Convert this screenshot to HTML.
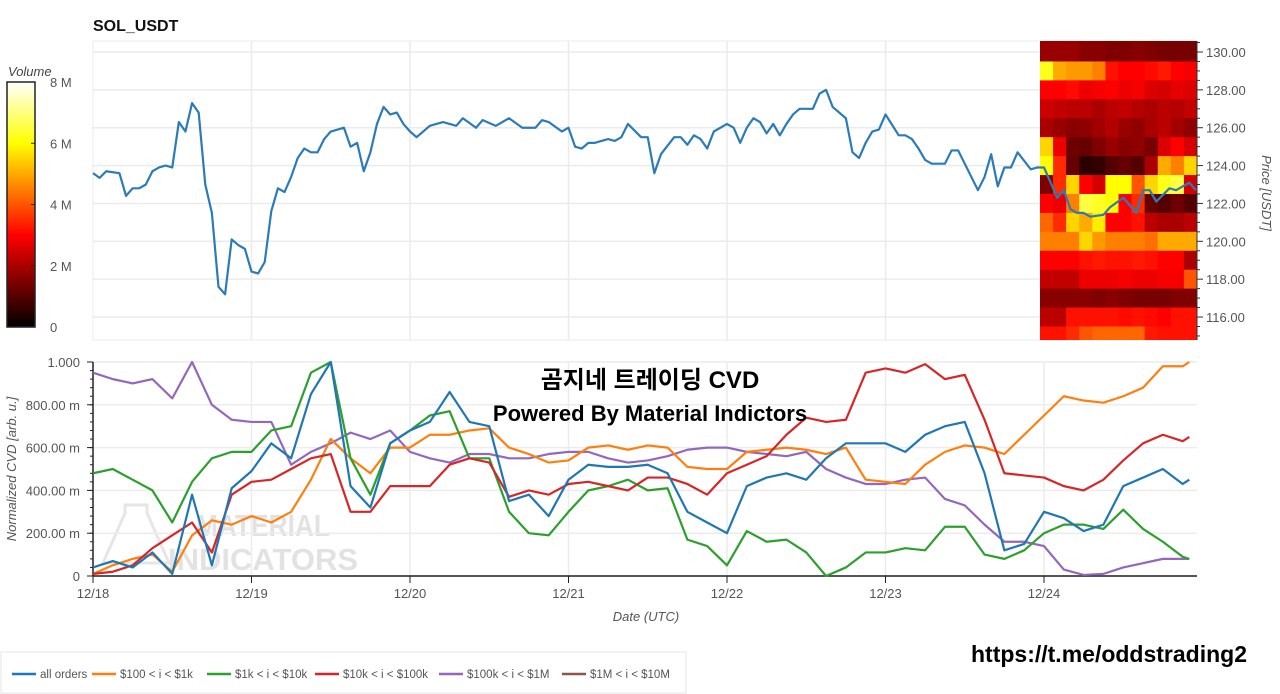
<!DOCTYPE html>
<html><head><meta charset="utf-8"><style>
html,body{margin:0;padding:0;background:#fff;}
svg{display:block;font-family:"Liberation Sans","Noto Sans CJK KR",sans-serif;}
</style></head><body>
<svg id="chart" width="1280" height="694" viewBox="0 0 1280 694" xmlns="http://www.w3.org/2000/svg">
<defs>
<linearGradient id="hotg" x1="0" y1="0" x2="0" y2="1">
<stop offset="0" stop-color="#ffffff"/><stop offset="0.25" stop-color="#ffff00"/><stop offset="0.625" stop-color="#ff0000"/><stop offset="1" stop-color="#000000"/>
</linearGradient>
<clipPath id="topclip"><rect x="93" y="41" width="1104" height="299"/></clipPath>
<clipPath id="botclip"><rect x="93" y="358" width="1104" height="222"/></clipPath>
</defs>
<text x="93" y="31" font-size="16" font-weight="bold" fill="#111">SOL_USDT</text>
<g id="top"></g>
<g opacity="0.18">
<path d="M125 505 h22 v8 l22 50 h-66 l22-50z" fill="none" stroke="#777" stroke-width="3"/>
<text x="196" y="536" font-size="31" font-weight="bold" fill="#666" textLength="134" lengthAdjust="spacingAndGlyphs">MATERIAL</text>
<text x="168" y="570" font-size="31" font-weight="bold" fill="#666" textLength="190" lengthAdjust="spacingAndGlyphs">INDICATORS</text>
</g>
<g id="bot"></g>
<text x="8" y="76" font-size="13" font-style="italic" fill="#444">Volume</text>
<rect x="7" y="82" width="28" height="245" fill="url(#hotg)" stroke="#222" stroke-width="1.5"/>
<g id="cbticks"></g>
<text transform="translate(1262,193) rotate(90)" text-anchor="middle" font-size="13" font-style="italic" fill="#555">Price [USDT]</text>
<text transform="translate(16,469) rotate(-90)" text-anchor="middle" font-size="13" font-style="italic" fill="#555">Normalized CVD [arb. u.]</text>
<text x="646" y="621" text-anchor="middle" font-size="13" font-style="italic" fill="#555">Date (UTC)</text>
<text x="650" y="388" text-anchor="middle" font-size="24" font-weight="bold" fill="#000">곰지네 트레이딩 CVD</text>
<text x="650" y="421" text-anchor="middle" font-size="22" font-weight="bold" fill="#000">Powered By Material Indictors</text>
<text x="1247" y="662" text-anchor="end" font-size="23" font-weight="bold" fill="#000">https://t.me/oddstrading2</text>
<g>
<rect x="1" y="652" width="685" height="41" fill="#fff" stroke="#e6e6e6"/>
<g id="legend"></g>
</g>
</svg>
<script>
const priceHours=[0,1,2,4,5,6,7,8,9,10,11,12,13,14,15,16,17,18,19,20,21,22,23,24,25,26,27,28,29,30,31,32,33,34,35,36,38,39,40,41,42,43,44,45,46,47,48,49,51,53,55,56,58,59,61,63,65,67,68,69,71,72,73,74,75,76,78,79,80,81,83,84,85,86,88,89,90,91,92,93,94,96,97,98,99,100,101,102,103,104,105,106,107,109,110,111,112,114,115,116,117,118,119,120,122,123,124,125,126,127,129,130,131,132,134,135,136,137,138,139,140,142,143,144,145,146,147,148,149,150,151,153,154,156,158,159,160,161,163,164,166,167];
const priceVals=[123.6,123.35,123.7,123.6,122.4,122.8,122.8,123.0,123.7,123.9,124.0,123.9,126.3,125.8,127.3,126.8,123.0,121.5,117.6,117.2,120.1,119.8,119.6,118.4,118.3,118.9,121.6,122.8,122.6,123.4,124.4,124.9,124.7,124.7,125.4,125.8,126.0,125.0,125.2,123.7,124.7,126.2,127.1,126.7,126.8,126.2,125.8,125.5,126.1,126.3,126.1,126.5,126.0,126.4,126.1,126.5,126.0,126.0,126.4,126.3,125.8,126.0,125.0,124.9,125.2,125.2,125.4,125.3,125.5,126.2,125.5,125.5,123.6,124.6,125.5,125.5,125.1,125.6,125.4,124.9,125.8,126.2,126.0,125.2,126.0,126.5,126.3,125.7,126.2,125.6,126.2,126.7,127.0,127.0,127.8,128.0,127.1,126.5,124.7,124.4,125.2,125.8,125.9,126.7,125.6,125.6,125.4,124.9,124.3,124.1,124.1,124.8,124.8,124.1,122.7,123.4,124.6,122.9,123.9,123.9,124.7,123.8,123.9,123.9,123.1,122.3,122.7,121.7,121.5,121.5,121.3,121.4,121.8,122.3,121.5,122.7,122.7,122.1,122.8,122.7,123.1,122.7];
const priceTicks=[130,128,126,124,122,120,118,116];
const dayLabels=["12/18","12/19","12/20","12/21","12/22","12/23","12/24"];
const cvdTicks=[0,0.2,0.4,0.6,0.8,1.0];
const cvdTickLabels=["0","200.00 m","400.00 m","600.00 m","800.00 m","1.000"];
const volTicks=[0,2,4,6,8];
const volLevels=[130,129,128,127,126,125,124,123,122,121,120,119,118,117,116,115];
const volGrid=[
[1.8,1.8,1.8,1.6,1.6,1.5,1.5,1.6,1.5,1.4,1.4,1.4],
[6.2,5.0,4.8,4.8,4.5,3.2,3.0,3.0,3.1,3.3,3.0,2.9],
[3.0,3.0,3.1,2.8,2.9,3.0,2.8,2.9,2.6,2.5,2.7,2.6],
[2.4,2.3,2.2,2.2,2.0,2.2,2.3,2.1,2.0,2.2,2.1,2.3],
[2.0,1.8,1.6,1.7,1.9,2.1,1.8,1.7,2.0,2.2,1.9,1.7],
[5.5,2.8,1.3,1.2,1.5,1.8,1.6,1.7,1.4,2.6,3.0,2.5],
[6.0,3.5,1.2,0.5,0.6,1.0,1.2,1.0,2.0,5.0,4.5,5.5],
[1.5,3.5,5.5,3.0,2.5,6.0,6.0,4.0,5.5,6.2,6.5,2.5],
[3.0,2.8,4.5,6.5,6.3,6.0,3.0,3.5,1.2,1.0,1.3,1.0],
[4.2,3.5,5.5,5.0,5.8,3.0,3.0,3.2,2.2,2.0,2.0,2.2],
[4.5,4.5,4.5,5.5,4.8,4.5,4.5,4.5,4.3,5.0,5.0,5.0],
[3.0,3.0,3.0,3.2,3.3,3.2,3.2,3.3,3.2,3.0,3.0,2.0],
[2.3,2.3,2.3,2.8,2.8,2.8,2.9,2.8,2.8,2.9,2.9,4.0],
[1.6,1.6,1.6,1.6,1.5,1.6,1.5,1.4,1.4,1.4,1.5,1.5],
[2.2,2.2,3.2,3.2,3.2,3.2,3.1,3.2,3.1,3.0,3.2,3.2],
[3.2,3.2,3.5,4.0,4.2,4.2,4.2,4.2,3.3,3.2,3.2,3.2]];
const cvdHours=[0,3,6,9,12,15,18,21,24,27,30,33,36,39,42,45,48,51,54,57,60,63,66,69,72,75,78,81,84,87,90,93,96,99,102,105,108,111,114,117,120,123,126,129,132,135,138,141,144,147,150,153,156,159,162,165,166];
const allOrders=[.04,.07,.04,.11,.01,.38,.05,.41,.49,.62,.55,.85,1.0,.42,.32,.62,.68,.72,.86,.72,.70,.35,.38,.28,.45,.52,.51,.51,.52,.48,.30,.25,.20,.42,.46,.48,.45,.55,.62,.62,.62,.58,.66,.70,.72,.48,.12,.15,.30,.27,.21,.24,.42,.46,.50,.43,.45];
const s100to1k=[.01,.05,.08,.10,.02,.19,.26,.24,.28,.25,.30,.45,.64,.55,.48,.60,.60,.66,.66,.68,.69,.60,.57,.53,.54,.60,.61,.59,.61,.60,.51,.50,.50,.58,.59,.60,.59,.57,.60,.45,.44,.43,.52,.58,.61,.60,.57,.66,.75,.84,.82,.81,.84,.88,.98,.98,1.0];
const s1kto10k=[.48,.50,.45,.40,.25,.44,.55,.58,.58,.68,.70,.95,1.0,.55,.38,.62,.68,.75,.77,.55,.55,.30,.20,.19,.30,.40,.42,.45,.40,.41,.17,.14,.05,.21,.16,.17,.11,.0,.04,.11,.11,.13,.12,.23,.23,.10,.08,.12,.20,.24,.24,.22,.31,.22,.16,.09,.08];
const s10kto100k=[.01,.02,.05,.13,.19,.25,.11,.38,.44,.45,.50,.55,.57,.30,.30,.42,.42,.42,.52,.55,.53,.37,.40,.38,.43,.44,.42,.40,.46,.46,.43,.38,.48,.52,.56,.66,.74,.72,.73,.95,.97,.95,.99,.92,.94,.73,.48,.47,.46,.42,.40,.45,.54,.62,.66,.63,.65];
const s100kto1m=[.95,.92,.90,.92,.83,1.0,.80,.73,.72,.72,.52,.58,.62,.67,.64,.68,.58,.55,.53,.57,.57,.55,.55,.57,.58,.58,.55,.53,.54,.56,.59,.60,.60,.58,.57,.56,.58,.50,.46,.43,.43,.45,.46,.36,.33,.24,.16,.16,.14,.03,.005,.01,.04,.06,.08,.08,.08];
const seriesNames=["all orders","$100 < i < $1k","$1k < i < $10k","$10k < i < $100k","$100k < i < $1M","$1M < i < $10M"];
const seriesColors=["#1f77b4","#ff7f0e","#2ca02c","#d62728","#9467bd","#8c564b"];

const NS="http://www.w3.org/2000/svg";
function mk(tag,attrs,parent){const e=document.createElementNS(NS,tag);for(const k in attrs)e.setAttribute(k,attrs[k]);parent.appendChild(e);return e;}
const xS=h=>93+h*158.5/24;
const pY=p=>52+(130-p)*18.93;
const cY=v=>576-v*214;
const vY=v=>327-v/8*245;
const topG=document.getElementById('top'), botG=document.getElementById('bot');

let fr=mk('rect',{x:93,y:41,width:1104,height:299,fill:'#fff',stroke:'#ebebeb'},topG);


priceTicks.forEach(p=>{
  const l=mk('line',{x1:93,x2:1197,y1:pY(p),y2:pY(p),stroke:'#ebebeb','stroke-width':1.5},topG);
  
  
  const t=mk('text',{x:1206,y:pY(p)+5,'font-size':13,fill:'#555'},topG);
  t.textContent=p.toFixed(2);
  
  
});
dayLabels.forEach((d,i)=>{
  if(i===0)return;
  const l=mk('line',{x1:xS(i*24),x2:xS(i*24),y1:41,y2:340,stroke:'#ebebeb','stroke-width':1.5},topG);
  
  
});
const hm=mk('g',{'clip-path':'url(#topclip)'},topG);


function hot(v){const t=Math.max(0,Math.min(1,v/8));const r=Math.min(1,t/0.375),g=Math.max(0,Math.min(1,(t-0.375)/0.375)),b=Math.max(0,Math.min(1,(t-0.75)/0.25));return `rgb(${Math.round(r*255)},${Math.round(g*255)},${Math.round(b*255)})`;}
const hx0=1040,hx1=1197,nc=volGrid[0].length,cw=(hx1-hx0)/nc;
volLevels.forEach((p,ri)=>{
  volGrid[ri].forEach((v,ci)=>{
    let y0=pY(p+0.5),y1=pY(p-0.5);
    if(ri===0)y0=41;
    const c=mk('rect',{x:hx0+ci*cw,y:y0,width:cw+0.5,height:y1-y0+0.5,fill:hot(v)},hm);
    
    
  });
});
const pax=mk('line',{x1:1197,x2:1197,y1:41,y2:340,stroke:'#333'},topG);


for(let p=115;p<=130.5;p+=0.5){mk('line',{x1:1197,x2:p%2===0?1203:1200,y1:pY(p),y2:pY(p),stroke:'#333'},topG);}
const nP=Math.min(priceHours.length,priceVals.length);
const pts=[];for(let i=0;i<nP;i++)pts.push(xS(priceHours[i])+','+pY(priceVals[i]));
const pl=mk('polyline',{points:pts.join(' '),fill:'none',stroke:'#2b7bb9','stroke-width':2.2,'stroke-linejoin':'round'},topG);



const cb=document.getElementById('cbticks');
volTicks.forEach(v=>{
  mk('line',{x1:31,x2:35,y1:vY(v),y2:vY(v),stroke:'#222'},cb);
  const t=mk('text',{x:50,y:vY(v)+5,'font-size':13,fill:'#555'},cb);
  t.textContent=v===0?'0':v+' M';
  
  
});

cvdTicks.forEach((v,i)=>{
  const l=mk('line',{x1:93,x2:1197,y1:cY(v),y2:cY(v),stroke:'#ececec','stroke-width':1.5},botG);
  
  
  const t=mk('text',{x:80,y:cY(v)+5,'font-size':13,fill:'#555','text-anchor':'end'},botG);
  t.textContent=cvdTickLabels[i];
  
  
  mk('line',{x1:87,x2:93,y1:cY(v),y2:cY(v),stroke:'#222'},botG);
});
for(let k=0;k<=25;k++){const v=k*0.04;mk('line',{x1:90,x2:93,y1:cY(v),y2:cY(v),stroke:'#222'},botG);}
dayLabels.forEach((d,i)=>{
  const x=xS(i*24);
  if(i>0){const g=mk('line',{x1:x,x2:x,y1:362,y2:576,stroke:'#ececec','stroke-width':1.5},botG);
  
  }
  mk('line',{x1:x,x2:x,y1:576,y2:583,stroke:'#222'},botG);
  const t=mk('text',{x:x,y:598,'font-size':13,fill:'#555','text-anchor':'middle'},botG);
  t.textContent=d;
  
  
});
const ya=mk('line',{x1:93,x2:93,y1:362,y2:576,stroke:'#222','stroke-width':1.5},botG);


const xa=mk('line',{x1:93,x2:1197,y1:576,y2:576,stroke:'#222','stroke-width':1.5},botG);



const seriesData=[allOrders,s100to1k,s1kto10k,s10kto100k,s100kto1m];
const seriesKeys=['all-orders-line','cvd-100-1k-line','cvd-1k-10k-line','cvd-10k-100k-line','cvd-100k-1m-line'];
const lg=mk('g',{'clip-path':'url(#botclip)'},botG);
[4,1,2,3,0].forEach(si=>{
  const d=seriesData[si];
  const n=Math.min(d.length,cvdHours.length);
  const sp=[];for(let i=0;i<n;i++)sp.push(xS(cvdHours[i])+','+cY(d[i]));
  const l=mk('polyline',{points:sp.join(' '),fill:'none',stroke:seriesColors[si],'stroke-width':2.2,'stroke-linejoin':'round'},lg);
  
  
});

const leg=document.getElementById('legend');
let lx=12;
const legW=[80,115,108,124,123,116];
seriesNames.forEach((n,i)=>{
  const g=mk('g',{},leg);
  
  
  mk('line',{x1:lx,x2:lx+24,y1:674,y2:674,stroke:seriesColors[i],'stroke-width':2.5},g);
  const t=mk('text',{x:lx+28,y:678,'font-size':11.5,fill:'#555'},g);
  t.textContent=n;
  lx+=legW[i];
});
</script>
</body></html>
